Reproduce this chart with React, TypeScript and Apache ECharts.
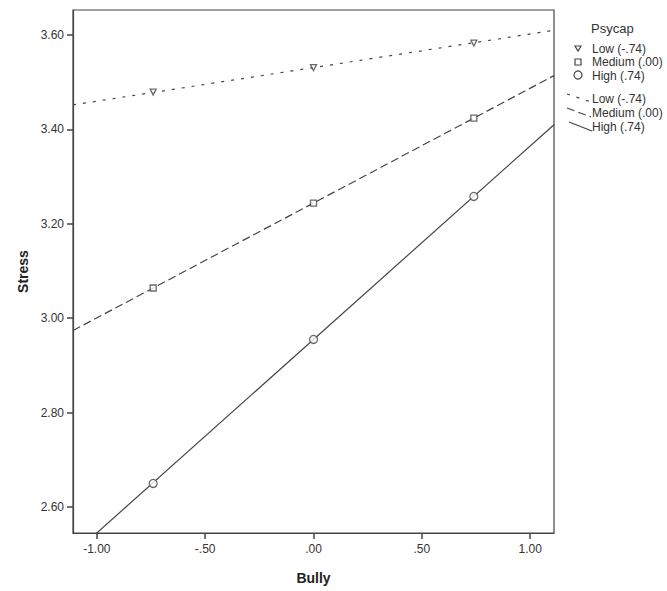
import React, { useEffect, useRef } from "react";
import * as echarts from "echarts";

const groups = ["Low (-.74)", "Medium (.00)", "High (.74)"];
const bullyPoints = [-0.74, 0.0, 0.74];
const lowPoints = [3.479, 3.531, 3.583];
const mediumPoints = [3.064, 3.244, 3.424];
const highPoints = [2.65, 2.955, 3.258];
const lineEnds = [-1.11, 1.11];
const lowLine = [3.452, 3.61];
const mediumLine = [2.974, 3.514];
const highLine = [2.5, 3.41];
const xTicks = [-1, -0.5, 0, 0.5, 1];
const yTicks = [2.6, 2.8, 3.0, 3.2, 3.4, 3.6];

const fmt = (v: number) => {
  const s = Math.abs(v).toFixed(2);
  const t = s.startsWith("0") ? s.slice(1) : s;
  return (v < 0 ? "-" : "") + t;
};

const INK = "#444";
const FONT = "Liberation Sans, Arial, sans-serif";

export default function App() {
  const ref = useRef<HTMLDivElement>(null);
  useEffect(() => {
    if (!ref.current) return;
    const chart = echarts.init(ref.current, undefined, { renderer: "svg" });
    const pts = (ys: number[]) => bullyPoints.map((x, i) => [x, ys[i]]);
    const ln = (ys: number[]) => lineEnds.map((x, i) => [x, ys[i]]);
    const lineStyleBase = { color: INK, width: 1.2 };
    const legendX = 592;
    const legendItems: any[] = [
      { type: "text", x: 591, y: 28, style: { text: "Psycap", font: `13px ${FONT}`, fill: "#333", verticalAlign: "middle", align: "left" } },
    ];
    const rowsY = [48.5, 62, 75.5, 99, 113, 127];
    groups.concat(groups).forEach((g, i) => {
      legendItems.push({
        type: "text",
        x: legendX,
        y: rowsY[i],
        style: { text: g, font: `12px ${FONT}`, fill: "#333", verticalAlign: "middle", align: "left" },
      });
    });
    legendItems.push(
      { type: "polygon", shape: { points: [[575, 46], [581, 46], [578, 51]] }, style: { fill: "#fff", stroke: INK, lineWidth: 1.2 } },
      { type: "rect", shape: { x: 575, y: 59, width: 6, height: 6 }, style: { fill: "#fff", stroke: INK, lineWidth: 1.2 } },
      { type: "circle", shape: { cx: 578, cy: 75, r: 4 }, style: { fill: "#fff", stroke: INK, lineWidth: 1.2 } },
      { type: "line", shape: { x1: 567, y1: 94, x2: 591, y2: 102 }, style: { stroke: INK, lineWidth: 1.2, lineDash: [3, 7] } },
      { type: "line", shape: { x1: 567, y1: 108, x2: 591, y2: 117 }, style: { stroke: INK, lineWidth: 1.2, lineDash: [8, 4] } },
      { type: "line", shape: { x1: 569, y1: 122, x2: 592, y2: 131 }, style: { stroke: INK, lineWidth: 1.2 } }
    );
    const axisCommon = {
      axisLine: { show: true, onZero: false, lineStyle: { color: INK, width: 1.2 } },
      axisTick: { show: true, inside: false, length: 6, lineStyle: { color: INK, width: 1.5 } },
      splitLine: { show: false },
    };
    chart.setOption({
      animation: false,
      backgroundColor: "#fff",
      textStyle: { fontFamily: FONT },
      grid: { left: 73, top: 10, right: 113, bottom: 58, show: true, borderColor: INK, borderWidth: 1.2, backgroundColor: "transparent" },
      xAxis: {
        type: "value",
        min: -1.11,
        max: 1.11,
        ...axisCommon,
        axisTick: { ...axisCommon.axisTick, customValues: xTicks },
        axisLabel: { customValues: xTicks, formatter: (v: number) => fmt(v), color: "#333", fontSize: 12, margin: 10, fontFamily: FONT },
        name: "Bully",
        nameLocation: "middle",
        nameGap: 38,
        nameTextStyle: { fontWeight: "bold", fontSize: 14, color: "#222", fontFamily: FONT },
      },
      yAxis: {
        type: "value",
        min: 2.545,
        max: 3.653,
        ...axisCommon,
        axisTick: { ...axisCommon.axisTick, customValues: yTicks },
        axisLabel: { customValues: yTicks, formatter: (v: number) => fmt(v), color: "#333", fontSize: 12, margin: 9, fontFamily: FONT },
        name: "Stress",
        nameLocation: "middle",
        nameGap: 36,
        nameTextStyle: { fontWeight: "bold", fontSize: 14, color: "#222", fontFamily: FONT },
      },
      series: [
        { type: "line", name: "Low line", data: ln(lowLine), showSymbol: false, symbol: "none", clip: true, lineStyle: { ...lineStyleBase, type: [3, 7] }, z: 2 },
        { type: "line", name: "Medium line", data: ln(mediumLine), showSymbol: false, symbol: "none", clip: true, lineStyle: { ...lineStyleBase, type: [8, 4] }, z: 2 },
        { type: "line", name: "High line", data: ln(highLine), showSymbol: false, symbol: "none", clip: true, lineStyle: { ...lineStyleBase }, z: 2 },
        { type: "scatter", name: groups[0], data: pts(lowPoints), symbol: "triangle", symbolRotate: 180, symbolSize: 6, itemStyle: { color: "#fff", borderColor: INK, borderWidth: 1.3 }, z: 3 },
        { type: "scatter", name: groups[1], data: pts(mediumPoints), symbol: "rect", symbolSize: 6, itemStyle: { color: "#fff", borderColor: INK, borderWidth: 1.3 }, z: 3 },
        { type: "scatter", name: groups[2], data: pts(highPoints), symbol: "circle", symbolSize: 8, itemStyle: { color: "#fff", borderColor: INK, borderWidth: 1.3 }, z: 3 },
      ],
      graphic: legendItems,
    });
    return () => chart.dispose();
  }, []);
  return <div ref={ref} style={{ position: "fixed", left: 0, top: 0, width: 667, height: 591, background: "#fff" }} />;
}
